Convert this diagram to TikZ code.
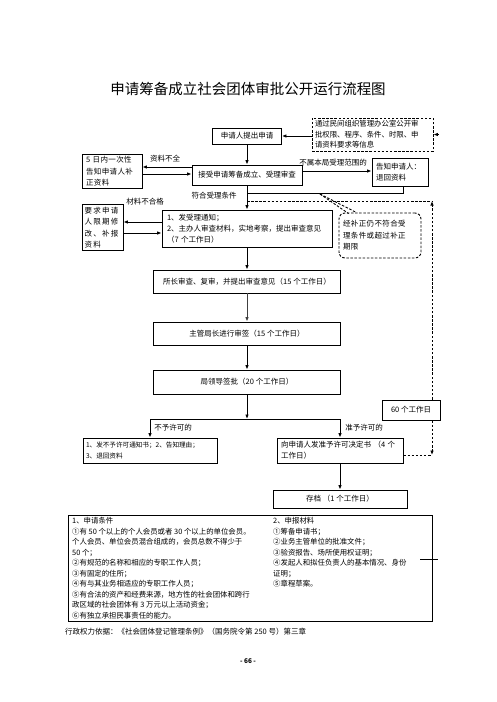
\documentclass[tikz,border=0pt]{standalone}
\usepackage{fontspec}
\setmainfont{Noto Sans CJK SC}
\newfontfamily\wideA[LetterSpace=17]{Noto Sans CJK SC}
\newfontfamily\wideB[LetterSpace=5]{Noto Sans CJK SC}
\usetikzlibrary{arrows.meta,calc}
\begin{document}
\begin{tikzpicture}[x=1pt,y=-1pt,
  bx/.style={draw,line width=0.9pt,inner xsep=4pt,inner ysep=2pt,align=left,font=\fontsize{7.5}{11}\selectfont},
  cbx/.style={draw,line width=0.9pt,inner sep=2pt,align=center,font=\fontsize{7.5}{11}\selectfont},
  lbl/.style={font=\fontsize{7.5}{9}\selectfont,inner sep=0pt},
  arr/.style={line width=0.9pt,-{Latex[length=4.5pt,width=3.6pt]}},
  ln/.style={line width=0.9pt},
  dsh/.style={line width=0.9pt,dash pattern=on 2.5pt off 1.6pt}]
\useasboundingbox (0,0) rectangle (496,702);

\node[font=\fontsize{14.5}{16}\selectfont,inner sep=0pt] (title) at (248,89) {申请筹备成立社会团体审批公开运行流程图};

% top
\node[cbx,minimum width=69pt,minimum height=16pt] (apply) at (247,136) {申请人提出申请};
\node[bx,dsh,inner xsep=3pt,text width=115pt,minimum height=33pt,font=\fontsize{7.4}{10.5}\selectfont] (info) at (372.5,134.5) {通过民间组织管理办公室公开审\\批权限、程序、条件、时限、申\\请资料要求等信息};
\draw[arr] (info.west |- apply.east) -- (apply.east);
\draw[arr] ($(info.east)+(5,0)$) -- (info.east);

\node[cbx,minimum width=110pt,minimum height=20pt] (accept) at (247,175) {接受申请筹备成立、受理审查};
\draw[arr] (apply.south) -- (accept.north);

\node[bx,text width=52pt,minimum height=33pt,font=\wideB\fontsize{7.5}{11.5}\selectfont] (left1) at (112,171.5) {5 日内一次性\\告知申请人补\\正资料};
\draw[arr] ($(accept.west)+(0,-8)$) -- ($(left1.east)+(0,-4.5)$);
\draw[arr] ($(left1.east)+(0,2.5)$) -- ($(accept.west)+(0,-1)$);
\node[lbl] (l1) at (165,159) {资料不全};

\node[bx,text width=48pt,minimum height=28pt] (notice) at (400,172) {告知申请人：\\退回资料};
\draw[arr] ($(accept.east)+(0,-4)$) -- ($(notice.west)+(0,-1)$);
\node[lbl] (l2) at (333,163) {不属本局受理范围的};

\coordinate (j1) at (247,193);
\draw[ln] ($(notice.south)+(3,0)$) |- (j1);
\node[lbl] (l3) at (214,196) {符合受理条件};

\node[bx,inner xsep=5pt,text width=160pt,minimum height=37pt] (review) at (247,228.5) {1、发受理通知；\\2、主办人审查材料，实地考察，提出审查意见\\（7 个工作日）};
\draw[arr] (accept.south) -- (review.north);

\node[bx,inner xsep=2.5pt,text width=36pt,minimum height=45pt,font=\wideA\fontsize{7.5}{11.5}\selectfont] (modify) at (102.5,227.5) {要求申请\\人限期修\\改、补报\\资料};
\draw[arr] ($(review.west)+(0,-6.5)$) -- ($(modify.east)+(0,-5.5)$);
\draw[arr] ($(modify.east)+(0,5.5)$) -- ($(review.west)+(0,4.5)$);
\node[lbl] (l4) at (145,202) {材料不合格};

% callout
\node[bx,dsh,rounded corners=6pt,text width=74pt,minimum height=45pt,font=\wideB\fontsize{7.5}{11.5}\selectfont] (callout) at (380,235.5) {经补正仍不符合受\\理条件或超过补正\\期限};
\coordinate (cp) at (320,194);
\draw[dsh] (cp) -- ($(callout.north west)+(10,1)$);
\draw[dsh] (cp) -- ($(callout.north west)+(18,0)$);

% dashed return path
\coordinate (j2) at (247,201);
\coordinate (c1) at (432,201);
\coordinate (c2) at (432,455);
\draw[dsh] (j2) -- (c1);

% main chain
\node[cbx,minimum width=187pt,minimum height=23pt] (head) at (247,281.5) {所长审查、复审，并提出审查意见（15 个工作日）};
\node[cbx,minimum width=187pt,minimum height=23pt] (chief) at (247,333.5) {主管局长进行审签（15 个工作日）};
\node[cbx,minimum width=187pt,minimum height=24pt] (leader) at (247,382) {局领导签批（20 个工作日）};
\draw[arr] (review.south) -- (head.north);
\draw[arr,draw=black!75] (head.south) -- (chief.north);
\draw[arr] (chief.south) -- (leader.north);

\node[cbx,minimum width=58pt,minimum height=20pt] (sixty) at (411,410) {60 个工作日};
\draw[dsh,-{Latex[length=4.5pt,width=3.6pt]}] (sixty.north -| c1) -- (c1);
\draw[dsh,-{Latex[length=4.5pt,width=3.6pt]}] (sixty.south -| c1) -- (c2);

\coordinate (j3) at (247,419);
\draw[arr] (leader.south) -- (j3);

\node[bx,inner xsep=3pt,text width=128pt,minimum height=25pt,font=\fontsize{6.6}{11}\selectfont] (deny) at (150,450.5) {1、发不予许可通知书；2、告知理由；\\3、退回资料};
\node[bx,text width=118pt,minimum height=25pt] (grant) at (340,450.5) {向申请人发准予许可决定书 （4 个\\工作日）};
\draw[arr] (j3) -| (deny.north);
\draw[arr] (j3) -| (grant.north);
\node[lbl] (l5) at (173,428) {不予许可的};
\node[lbl] (l6) at (364,428) {准予许可的};
\draw[dsh] (grant.east |- c2) -- (c2);

\node[cbx,minimum width=134pt,minimum height=18pt] (archive) at (340,499) {存档 （1 个工作日）};
\draw[arr] (grant.south) -- (archive.north);

% conditions box
\node[draw,line width=0.9pt,minimum width=364pt,minimum height=106pt,inner sep=0pt] (cond) at (250,568) {};
\draw[ln] ($(cond.east)+(-12,-9)$) -- ($(cond.east)+(6,-9)$);
\node[anchor=north west,inner sep=0pt,align=left,font=\fontsize{7.4}{10.5}\selectfont] (condl) at (72,517.5)
 {1、申请条件\\
  ①有 50 个以上的个人会员或者 30 个以上的单位会员。\\
  个人会员、单位会员混合组成的，会员总数不得少于\\
  50 个；\\
  ②有规范的名称和相应的专职工作人员；\\
  ③有固定的住所；\\
  ④有与其业务相适应的专职工作人员；\\
  ⑤有合法的资产和经费来源，地方性的社会团体和跨行\\
  政区域的社会团体有 3 万元以上活动资金；\\
  ⑥有独立承担民事责任的能力。};
\node[anchor=north west,inner sep=0pt,align=left,font=\fontsize{7.4}{10.5}\selectfont] (condr) at (273,517.5)
 {2、申报材料\\
  ①筹备申请书；\\
  ②业务主管单位的批准文件；\\
  ③验资报告、场所使用权证明；\\
  ④发起人和拟任负责人的基本情况、身份\\
  证明；\\
  ⑤章程草案。};

\node[anchor=west,inner sep=0pt,font=\fontsize{7.5}{9}\selectfont] (basis) at (65,632) {行政权力依据：《社会团体登记管理条例》（国务院令第 250 号）第三章};
\node[inner sep=0pt,font=\bfseries\fontsize{6.5}{8}\selectfont] (page) at (248,661) {- 66 -};
\end{tikzpicture}
\end{document}
